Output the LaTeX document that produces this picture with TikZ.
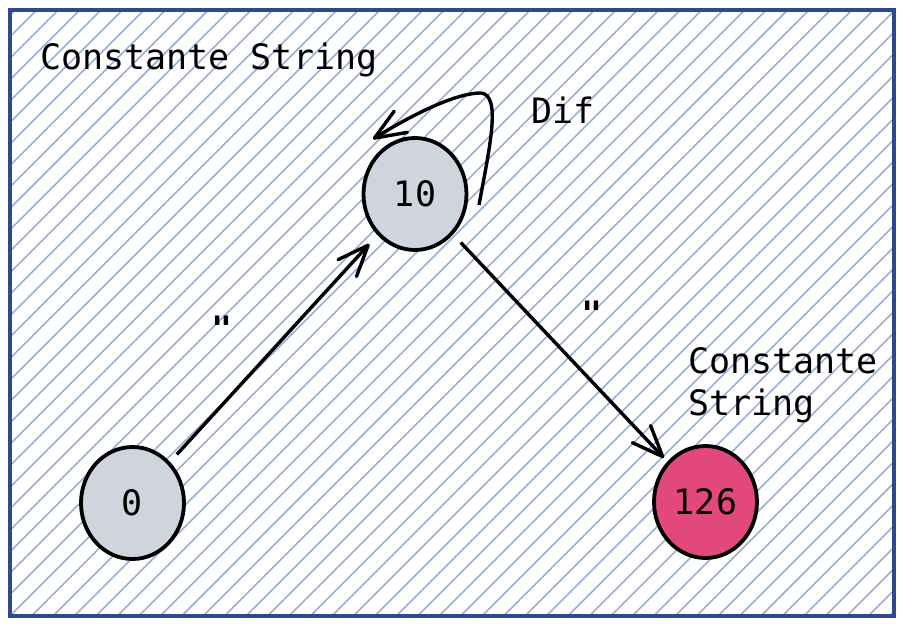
\documentclass[tikz,border=0pt]{standalone}
\usepackage{fontspec}
\setmonofont{DejaVu Sans Mono}
\usetikzlibrary{arrows.meta,shapes.geometric,calc,patterns.meta}
\definecolor{frameblue}{HTML}{2E4A8C}
\definecolor{hatchblue}{HTML}{9AADD6}
\definecolor{nodegray}{HTML}{D0D4DC}
\definecolor{nodepink}{HTML}{E2487D}
\begin{document}
\begin{tikzpicture}[x=1pt,y=-1pt,
  every node/.style={font=\ttfamily\fontsize{35}{42}\selectfont, inner sep=0pt},
  stnode/.style={ellipse, draw=black, line width=3.8pt, minimum width=103pt, minimum height=112pt, fill=nodegray},
  pinknode/.style={stnode, fill=nodepink},
  conn/.style={line width=3.4pt, -{Straight Barb[length=31pt,width=25pt,round]}},
  hatchfill/.style={pattern={Lines[angle=45,distance=15.17pt,line width=1.6pt]}, pattern color=hatchblue},
  framebox/.style={draw=frameblue, line width=3.8pt},
  lbl/.style={anchor=base west},
  quote/.style={anchor=base, font=\ttfamily\bfseries\fontsize{35}{42}\selectfont}
]
\useasboundingbox (0,0) rectangle (911,626);
\fill[hatchfill] (10.3,10.3) rectangle (894.3,615.7);
\draw[framebox] (10.3,10.3) rectangle (894.3,615.7);

\node[stnode] (n10) at (415,194) {10};
\node[stnode] (n0) at (132.5,503) {0};
\node[pinknode] (n126) at (705.5,502) {126};

\draw[conn, shorten <=10pt, shorten >=12pt] (n0) -- (n10);
\draw[conn, shorten <=11pt, shorten >=5pt] (n10) -- (n126);
\draw[conn] ($(n10)+(64,11)$) .. controls (489,150) and (502,95) .. (481,93)
  .. controls (452,93) and (402,121) .. ($(n10)+(-42,-55)$);

\node[lbl] (t1) at (40,70) {Constante String};
\node[lbl] (t2) at (531,123) {Dif};
\node[lbl, align=left] (t3) at (688,415) {Constante\\String};
\node[quote] (q1) at (222,341) {"};
\node[quote] (q2) at (592,326) {"};
\end{tikzpicture}
\end{document}
